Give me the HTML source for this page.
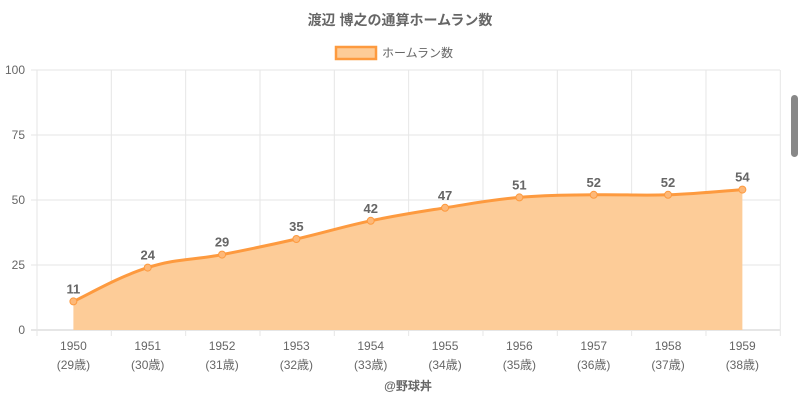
<!DOCTYPE html>
<html><head><meta charset="utf-8"><style>
body{margin:0;background:#fff;width:800px;height:400px;overflow:hidden;}
svg{font-family:"Liberation Sans","Noto Sans CJK JP",sans-serif;}
</style></head><body>
<svg id="s" width="800" height="400" xmlns="http://www.w3.org/2000/svg">
<text x="400" y="25" text-anchor="middle" font-size="14" font-weight="bold" fill="#666">渡辺 博之の通算ホームラン数</text>
<rect x="336" y="47" width="40" height="12" fill="#fdcc98" stroke="#fd9a3f" stroke-width="2.5"/>
<text x="382" y="57" font-size="12" fill="#666">ホームラン数</text>
<g stroke="#e6e6e6" stroke-width="1" id="grid"></g>
<g font-size="12" fill="#666" text-anchor="end">
<text x="25" y="74">100</text><text x="25" y="139">75</text><text x="25" y="204">50</text><text x="25" y="269">25</text><text x="25" y="334">0</text>
</g>
<path id="area" fill="#fdcc98" stroke="none"/>
<path id="line" fill="none" stroke="#fd9a3f" stroke-width="3"/>
<g id="pts"></g>
<g font-size="13" font-weight="bold" fill="#666" text-anchor="middle" id="lbl"></g>
<g font-size="12" fill="#666" text-anchor="middle" id="xl"></g>
<text x="408" y="390" text-anchor="middle" font-size="12" font-weight="bold" fill="#666">@野球丼</text>
<rect x="791" y="95" width="7" height="62" rx="3.5" fill="#888"/>
</svg>
<script>
var v=[11,24,29,35,42,47,51,52,52,54],ns="http://www.w3.org/2000/svg";
function X(i){return 73.4+74.33*i}function Y(t){return 330-2.6*t}
var g=document.getElementById('grid'),h='';
for(var k=0;k<=4;k++){var y=70+65*k;h+='<line x1="31" x2="780" y1="'+y+'" y2="'+y+'"'+(k==4?' stroke="#ccc"':'')+'/>';}
for(var k=0;k<=10;k++){var x=37+74.33*k;h+='<line x1="'+x+'" x2="'+x+'" y1="70" y2="336"/>';}
g.innerHTML=h;
var p=v.map(function(t,i){return[X(i),Y(t)]});
var d='M'+p[0][0]+','+p[0][1];
for(var i=0;i<p.length-1;i++){var a=p[i>0?i-1:i],b=p[i],c=p[i+1],e=p[i+2<p.length?i+2:i+1],t=0.2;
d+=' C'+(b[0]+(c[0]-a[0])*t)+','+(b[1]+(c[1]-a[1])*t)+' '+(c[0]-(e[0]-b[0])*t)+','+(c[1]-(e[1]-b[1])*t)+' '+c[0]+','+c[1];}
document.getElementById('line').setAttribute('d',d);
document.getElementById('area').setAttribute('d',d+' L'+p[9][0]+',330 L'+p[0][0]+',330 Z');
var ph='',lh='',xh='';
p.forEach(function(q,i){ph+='<circle cx="'+q[0]+'" cy="'+q[1]+'" r="3.5" fill="#fdb878" stroke="#fd9a3f" stroke-width="1"/>';
lh+='<text x="'+q[0]+'" y="'+(q[1]-8)+'">'+v[i]+'</text>';
xh+='<text x="'+q[0]+'" y="350">'+(1950+i)+'</text><text x="'+q[0]+'" y="369">('+(29+i)+'歳)</text>';});
document.getElementById('pts').innerHTML=ph;
document.getElementById('lbl').innerHTML=lh;
document.getElementById('xl').innerHTML=xh;
</script>
</body></html>
